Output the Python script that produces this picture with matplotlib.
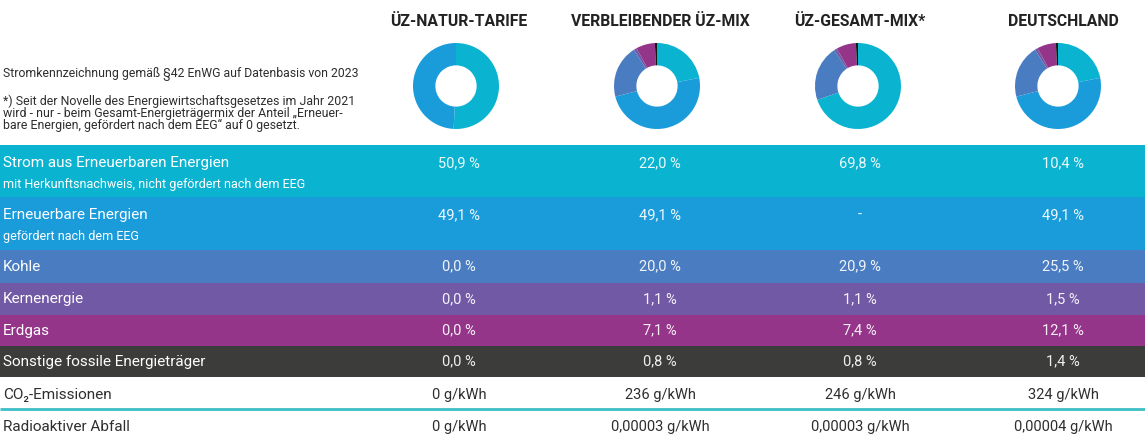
import matplotlib
matplotlib.use("Agg")
import matplotlib.pyplot as plt
from matplotlib.patches import Rectangle
from matplotlib import font_manager

# ---------------- data ----------------
columns = ["ÜZ-NATUR-TARIFE", "VERBLEIBENDER ÜZ-MIX", "ÜZ-GESAMT-MIX*", "DEUTSCHLAND"]

row_labels = ["Strom aus Erneuerbaren Energien", "Erneuerbare Energien", "Kohle",
              "Kernenergie", "Erdgas", "Sonstige fossile Energieträger"]
row_sublabels = ["mit Herkunftsnachweis, nicht gefördert nach dem EEG",
                 "gefördert nach dem EEG", "", "", "", ""]

natur = [50.9, 49.1, 0.0, 0.0, 0.0, 0.0]
verbleibend = [22.0, 49.1, 20.0, 1.1, 7.1, 0.8]
gesamt = [69.8, None, 20.9, 1.1, 7.4, 0.8]
deutschland = [10.4, 49.1, 25.5, 1.5, 12.1, 1.4]

# donut shares as drawn in the picture (Deutschland donut is drawn like the remaining mix)
donut_natur = [50.9, 49.1, 0.0, 0.0, 0.0, 0.0]
donut_verbleibend = [22.0, 49.1, 20.0, 1.1, 7.1, 0.8]
donut_gesamt = [69.8, 0.0, 20.9, 1.1, 7.4, 0.8]
donut_deutschland = [22.0, 49.1, 20.0, 1.1, 7.1, 0.8]

co2_values = ["0 g/kWh", "236 g/kWh", "246 g/kWh", "324 g/kWh"]
waste_values = ["0 g/kWh", "0,00003 g/kWh", "0,00003 g/kWh", "0,00004 g/kWh"]

note_title = "Stromkennzeichnung gemäß §42 EnWG auf Datenbasis von 2023"
note_lines = ["*) Seit der Novelle des Energiewirtschaftsgesetzes im Jahr 2021",
              "wird - nur - beim Gesamt-Energieträgermix der Anteil „Erneuer-",
              "bare Energien, gefördert nach dem EEG“ auf 0 gesetzt."]

# ---------------- style ----------------
W, H = 1145, 436
row_colors = ["#0ab4d1", "#1a9cdb", "#4a7cc1", "#7259a6", "#943589", "#3c3d3b"]
donut_colors = ["#0ab4d1", "#1a9cdb", "#4a7cc1", "#7259a6", "#943589", "#161616"]
row_edges = [145, 197, 250, 283, 315, 346, 377]
col_x = [459, 660, 860, 1063]
donut_x = [456, 657, 858, 1058]
donut_y = 86
donut_r = 43

installed = {f.name for f in font_manager.fontManager.ttflist}
condensed = "DejaVu Sans Condensed" if "DejaVu Sans Condensed" in installed else None

label_font = ["Roboto", "DejaVu Sans"]
if condensed:
    value_font = [condensed, "DejaVu Sans"]
    head_font = [condensed, "DejaVu Sans"]
    head_size, value_size = 11.5, 10
else:
    value_font = ["Roboto", "DejaVu Sans"]
    head_font = ["Roboto", "DejaVu Sans"]
    head_size, value_size = 11.3, 10.5
dark = "#2e2e2e"

fig = plt.figure(figsize=(W / 100, H / 100), dpi=100)
fig.patch.set_facecolor("white")
ax = fig.add_axes([0, 0, 1, 1])
ax.set_xlim(0, W)
ax.set_ylim(H, 0)
ax.axis("off")

# headers
for x, name in zip(col_x, columns):
    ax.text(x, 21, name, ha="center", va="center", fontsize=head_size, fontweight="bold",
            family=head_font, color="#222222")

# left note
ax.text(3, 73, note_title, ha="left", va="center", fontsize=8.85, family=label_font, color=dark)
for i, line in enumerate(note_lines):
    ax.text(3, 101 + i * 12, line, ha="left", va="center", fontsize=8.9,
            family=label_font, color=dark)

# colored rows
series = [natur, verbleibend, gesamt, deutschland]
for i in range(len(row_labels)):
    top, bot = row_edges[i], row_edges[i + 1]
    ax.add_patch(Rectangle((0, top), W, bot - top, facecolor=row_colors[i], edgecolor="none"))
    if row_sublabels[i]:
        ax.text(3, top + 18, row_labels[i], ha="left", va="center", fontsize=11,
                family=label_font, color="white")
        ax.text(3, top + 39, row_sublabels[i], ha="left", va="center", fontsize=9,
                family=label_font, color="white")
        vy = top + 18
    else:
        ax.text(3, (top + bot) / 2, row_labels[i], ha="left", va="center", fontsize=11,
                family=label_font, color="white")
        vy = (top + bot) / 2
    for x, s in zip(col_x, series):
        v = s[i]
        txt = "-" if v is None else f"{v:.1f}".replace(".", ",") + " %"
        ax.text(x, vy, txt, ha="center", va="center", fontsize=value_size,
                family=value_font, color="white", alpha=0.92)

# CO2 row
ax.text(3, 395, "CO₂-Emissionen", ha="left", va="center", fontsize=11,
        family=label_font, color=dark)
for x, t in zip(col_x, co2_values):
    ax.text(x, 395, t, ha="center", va="center", fontsize=value_size, family=value_font, color=dark)
ax.plot([0, W], [409, 409], color="#3dbfc6", lw=2, solid_capstyle="butt")

# radioactive waste row
ax.text(3, 427, "Radioaktiver Abfall", ha="left", va="center", fontsize=11,
        family=label_font, color=dark)
for x, t in zip(col_x, waste_values):
    ax.text(x, 427, t, ha="center", va="center", fontsize=value_size, family=value_font, color=dark)

# donuts
donuts = [donut_natur, donut_verbleibend, donut_gesamt, donut_deutschland]
for cx, vals in zip(donut_x, donuts):
    w = 2 * donut_r / W
    h = 2 * donut_r / H
    dax = fig.add_axes([cx / W - w / 2, 1 - donut_y / H - h / 2, w, h])
    dax.pie(vals, colors=donut_colors, startangle=90, counterclock=False,
            radius=1.0, wedgeprops=dict(width=0.52, edgecolor="none"))
    dax.set_xlim(-1, 1)
    dax.set_ylim(-1, 1)
    dax.axis("off")

fig.savefig("out.png", dpi=100, facecolor="white")
